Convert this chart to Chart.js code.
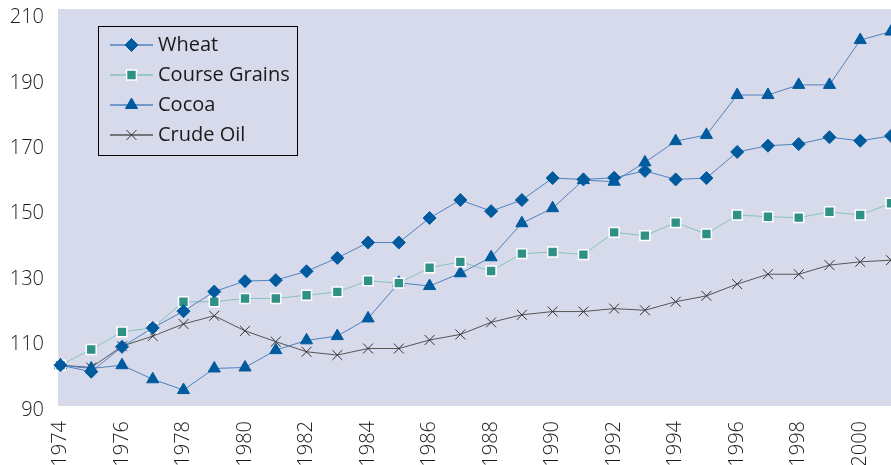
<!DOCTYPE html>
<html>
<head>
<meta charset="utf-8">
<script src="https://cdn.jsdelivr.net/npm/chart.js@4.4.1/dist/chart.umd.min.js"></script>
<style>
  html, body { margin: 0; padding: 0; background: #ffffff; }
  #wrap { width: 891px; height: 465px; }
</style>
</head>
<body>
<div id="wrap"><canvas id="chart" width="891" height="465"></canvas></div>
<script>
// values
const years = [1974, 1975, 1976, 1977, 1978, 1979, 1980, 1981, 1982, 1983,
               1984, 1985, 1986, 1987, 1988, 1989, 1990, 1991, 1992, 1993,
               1994, 1995, 1996, 1997, 1998, 1999, 2000, 2001];
const wheat = [103.7, 101.7, 109.3, 115.1, 120.2, 126.2, 129.4, 129.7, 132.4, 136.5,
               141.2, 141.2, 148.7, 154.2, 150.8, 154.2, 160.9, 160.5, 161.0, 163.1,
               160.5, 160.9, 168.9, 170.8, 171.3, 173.4, 172.3, 173.8];
const courseGrains = [103.7, 108.5, 113.9, 115.1, 123.1, 123.1, 124.1, 124.1, 125.1, 126.1,
                      129.5, 128.8, 133.5, 135.3, 132.5, 137.8, 138.3, 137.5, 144.3, 143.3,
                      147.3, 143.8, 149.6, 149.1, 148.8, 150.6, 149.6, 153.2];
const cocoa = [103.7, 102.7, 103.7, 99.4, 96.1, 102.7, 103.0, 108.3, 111.3, 112.6,
               118.0, 128.9, 127.9, 131.8, 136.7, 147.1, 151.7, 160.3, 159.8, 165.7,
               172.2, 174.1, 186.3, 186.3, 189.4, 189.4, 203.1, 205.7];
const crudeOil = [103.7, 103.0, 109.5, 112.6, 116.3, 118.8, 114.2, 110.9, 107.8, 106.8,
                  108.8, 108.8, 111.4, 113.1, 116.8, 119.1, 120.1, 120.1, 121.0, 120.5,
                  123.1, 124.9, 128.5, 131.5, 131.5, 134.3, 135.3, 135.8];
const xTickLabels = [1974, 1976, 1978, 1980, 1982, 1984, 1986, 1988, 1990, 1992, 1994, 1996, 1998, 2000];
const yTickLabels = [90, 110, 130, 150, 170, 190, 210];

const FONT = "'Open Sans', 'Liberation Sans', sans-serif";
const PLOT_BG = "#d7daeb";

const toPoints = vals => vals.map((v, i) => ({ x: years[i], y: v }));

function series(label, vals, line, style) {
    return Object.assign({
        label: label,
        data: toPoints(vals),
        borderColor: line,
        borderWidth: 1,
        tension: 0,
        fill: false,
        clip: false
    }, style);
}

// stop the scales from reserving room for half tick labels
function noPadding(scale) {
    scale.paddingLeft = 0;
    scale.paddingRight = 0;
    scale.paddingTop = 0;
    scale.paddingBottom = 0;
}

const plotBackground = {
    id: "plotBackground",
    beforeDraw(chart) {
        const { ctx, chartArea: a } = chart;
        ctx.save();
        ctx.fillStyle = "#ffffff";
        ctx.fillRect(0, 0, chart.width, chart.height);
        ctx.fillStyle = PLOT_BG;
        ctx.fillRect(a.left, a.top - 8.5, a.right - a.left, a.bottom - a.top + 4.5);
        ctx.restore();
    }
};

// legend box sitting inside the plot, like the original
const boxLegend = {
    id: "boxLegend",
    afterDatasetsDraw(chart) {
        const ctx = chart.ctx;
        const x0 = 98, y0 = 26, w = 199, h = 129;
        ctx.save();
        ctx.fillStyle = PLOT_BG;
        ctx.fillRect(x0, y0, w, h);
        ctx.strokeStyle = "#000000";
        ctx.lineWidth = 1;
        ctx.strokeRect(x0 + 0.5, y0 + 0.5, w, h);
        chart.data.datasets.forEach((ds, i) => {
            const cy = 45 + i * 30;
            ctx.strokeStyle = ds.borderColor;
            ctx.lineWidth = 1.5;
            ctx.beginPath();
            ctx.moveTo(110, cy);
            ctx.lineTo(153, cy);
            ctx.stroke();
            ctx.fillStyle = ds.pointBackgroundColor;
            ctx.strokeStyle = ds.pointBorderColor;
            ctx.lineWidth = ds.pointBorderWidth;
            Chart.helpers.drawPoint(ctx, {
                pointStyle: ds.pointStyle,
                radius: ds.pointRadius,
                borderWidth: ds.pointBorderWidth,
                rotation: 0
            }, 131.5, cy);
            ctx.fillStyle = "#1a1a1a";
            ctx.font = "20px " + FONT;
            ctx.textBaseline = "middle";
            ctx.textAlign = "left";
            ctx.fillText(ds.label, 158, cy);
        });
        ctx.restore();
    }
};

new Chart(document.getElementById("chart"), {
    type: "line",
    data: {
        datasets: [
            series("Wheat", wheat, "#4f82c0", {
                pointStyle: "rectRot", pointRadius: 6.5,
                pointBackgroundColor: "#005a9e", pointBorderColor: "#005a9e", pointBorderWidth: 1
            }),
            series("Course Grains", courseGrains, "#86c2bb", {
                pointStyle: "rect", pointRadius: 7,
                pointBackgroundColor: "#2f9186", pointBorderColor: "#ffffff", pointBorderWidth: 1.5
            }),
            series("Cocoa", cocoa, "#4f82c0", {
                pointStyle: "triangle", pointRadius: 7,
                pointBackgroundColor: "#005a9e", pointBorderColor: "#005a9e", pointBorderWidth: 1
            }),
            series("Crude Oil", crudeOil, "#555555", {
                pointStyle: "crossRot", pointRadius: 7,
                pointBackgroundColor: "#333333", pointBorderColor: "#333333", pointBorderWidth: 1
            })
        ]
    },
    options: {
        responsive: false,
        animation: false,
        layout: { autoPadding: false, padding: { top: 17.5, left: 0, right: 0, bottom: 0 } },
        plugins: {
            legend: { display: false },
            tooltip: { enabled: false }
        },
        elements: { point: { hoverRadius: 7 } },
        scales: {
            x: {
                type: "linear",
                min: 1973.92,
                max: 2001,
                grid: { display: false, drawTicks: false },
                border: { display: false },
                afterBuildTicks: scale => { scale.ticks = xTickLabels.map(v => ({ value: v })); },
                afterFit: scale => { scale.height = 55; noPadding(scale); },
                ticks: {
                    autoSkip: false,
                    minRotation: 90,
                    maxRotation: 90,
                    padding: 11,
                    color: "#1a1a1a",
                    font: { family: FONT, size: 20, weight: 300 },
                    callback: v => String(v)
                }
            },
            y: {
                min: 90,
                max: 210,
                grid: { display: false, drawTicks: false },
                border: { display: false },
                afterBuildTicks: scale => { scale.ticks = yTickLabels.map(v => ({ value: v })); },
                afterFit: scale => { scale.width = 58; noPadding(scale); },
                ticks: {
                    padding: 14,
                    color: "#1a1a1a",
                    font: { family: FONT, size: 20, weight: 300 },
                    callback: v => String(v)
                }
            }
        }
    },
    plugins: [plotBackground, boxLegend]
});
</script>
</body>
</html>
